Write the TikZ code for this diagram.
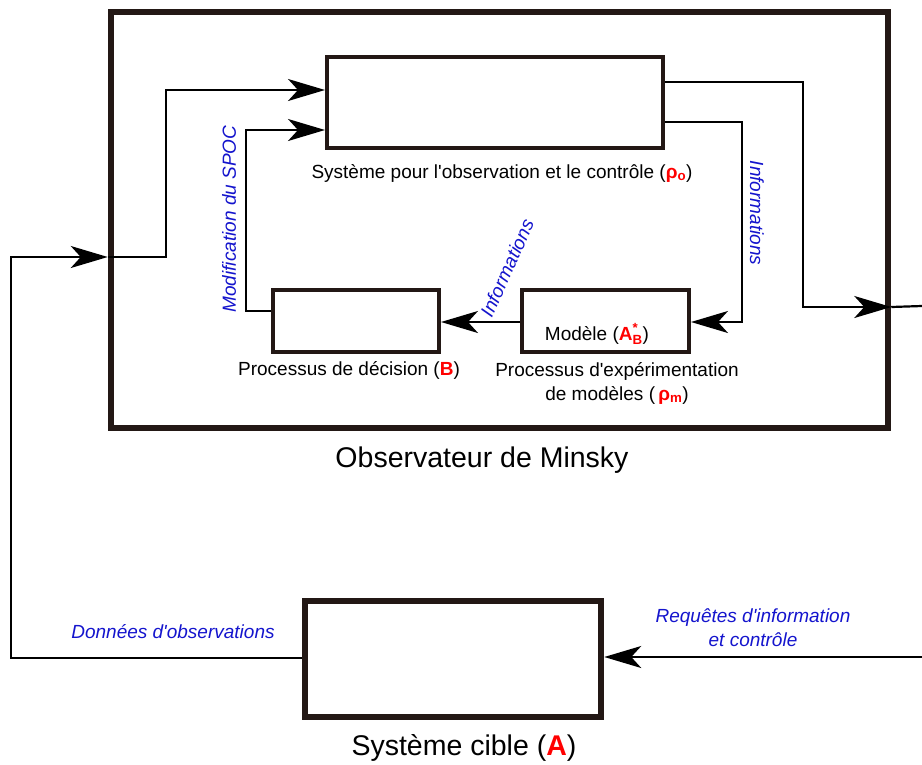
\documentclass[tikz,border=0pt]{standalone}
\usepackage{fontspec}
\usepackage{amsmath}
\usepackage{xcolor}
\usepackage{tikz}
\usetikzlibrary{arrows.meta}
\setmainfont{Liberation Sans}

\definecolor{boxline}{RGB}{35,24,21}
\definecolor{labelblue}{RGB}{20,20,205}

\tikzset{
    bigbox/.style={draw=boxline, line width=6.5pt, fill=white, inner sep=0pt},
    smallbox/.style={draw=boxline, line width=4pt, fill=white, inner sep=0pt},
    conn/.style={draw=black, line width=2.2pt, -{Stealth[length=37pt, width=22pt, inset=10pt]}},
    wire/.style={draw=black, line width=2.2pt},
    lbl/.style={font=\fontsize{19}{24}\selectfont, align=center, inner sep=0pt},
    title/.style={font=\fontsize{28.5}{32}\selectfont, inner sep=0pt},
    note/.style={font=\fontsize{19}{24}\selectfont\itshape, text=labelblue, align=center, inner sep=0pt}
}

\newcommand{\rouge}[1]{\textcolor{red}{\textbf{#1}}}
\newcommand{\apos}{\textquotesingle}

\begin{document}
\begin{tikzpicture}[x=1pt, y=-1pt]
        \useasboundingbox (0,0) rectangle (922,764);

        \node[bigbox, minimum width=777pt, minimum height=416pt] (minsky) at (499.5,220) {};
        \node[smallbox, minimum width=336pt, minimum height=91pt] (spoc) at (495,102.5) {};
        \node[smallbox, minimum width=166pt, minimum height=62pt] (decision) at (356,321) {};
        \node[smallbox, minimum width=167pt, minimum height=62pt] (model) at (605.5,321) {};
        \node[bigbox, minimum width=296pt, minimum height=116pt] (target) at (453,659) {};

        \coordinate (in1) at (minsky.west |- 0,257);
        \coordinate (out1) at (minsky.east |- 0,307);
        \coordinate (exit) at (922,306);
        \coordinate (req) at (922,657);

        \draw[conn] (target.west |- 0,658) -| (11,257) -- (in1);
        \draw[conn] (in1) -| (166,90) -- (spoc.west |- 0,90);
        \draw[conn] (decision.west |- 0,311) -| (246,130) -- (spoc.west |- 0,130);
        \draw[conn] (spoc.east |- 0,82) -| (803,307) -- (out1);
        \draw[wire] (out1) -- (exit);
        \draw[conn] (spoc.east |- 0,122) -| (742,322) -- (model.east |- 0,322);
        \draw[conn] (model.west |- 0,322) -- (decision.east |- 0,322);
        \draw[conn] (req) -- (target.east |- 0,657);

        \node[lbl] (spoclabel) at (502,173) {Système pour l\apos observation et le contrôle (\rouge{ρ\textsubscript{o}})};
        \node[lbl] (decisionlabel) at (349,370) {Processus de décision (\rouge{B})};
        \node[lbl] (modellabel) at (617,383) {Processus d\apos expérimentation\\de modèles (\,\rouge{ρ\textsubscript{m}})};
        \node[lbl] (modelinside) at (597,334) {Modèle ($\textcolor{red}{\textbf{A}^{\textbf{*}}_{\textbf{B}}}$)};
        \node[title] (minskylabel) at (482,460) {Observateur de Minsky};
        \node[title] (targetlabel) at (464,748) {Système cible (\rouge{A})};

        \node[note] (datalabel) at (173,632) {Données d\apos observations};
        \node[note] (reqlabel) at (753,628) {Requêtes d\apos information\\et contrôle};
        \node[note, rotate=90] (modiflabel) at (229,219) {Modification du SPOC};
        \node[note, rotate=-90] (infolabel) at (757,213) {Informations};
        \node[note, rotate=66] (infodiag) at (507,268) {Informations};
    \end{tikzpicture}
\end{document}
